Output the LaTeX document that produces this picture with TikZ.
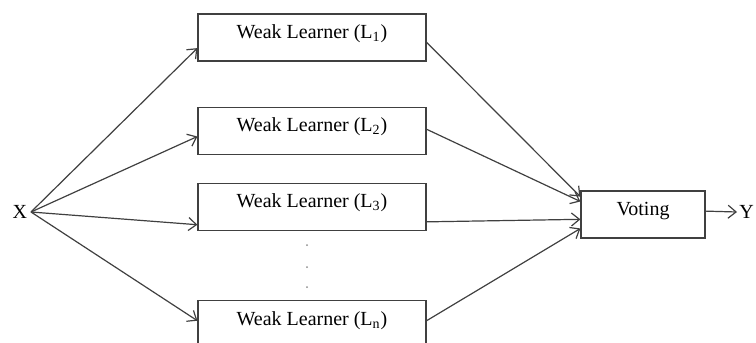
\documentclass[tikz,border=0pt]{standalone}
\usepackage{fontspec}
\setmainfont{Liberation Serif}
\usetikzlibrary{arrows.meta,calc,positioning}

\begin{document}
\begin{tikzpicture}[x=1pt,y=1pt,
node distance = 22.5pt,
 line/.style = {draw=black!75, line width=0.6pt},
  arr/.style = {line, -{Straight Barb[length=4pt,width=6.5pt]}},
  box/.style = {line, minimum width=114pt, minimum height=23.5pt,
                inner sep=0pt, text height=7pt, text depth=6pt,
                font=\fontsize{10}{12}\selectfont},
 vote/.style = {box, minimum width=62pt},
   io/.style = {inner ysep=0pt, inner xsep=1.8pt, font=\fontsize{10}{12}\selectfont},
  dot/.style = {fill=black!45, circle, inner sep=0pt, minimum size=1pt}
                ]
\useasboundingbox (0,0) rectangle (378,-171.5);

\node (l1) [box] at (156,-18.75) {Weak Learner (L\textsubscript{1})};
\node (l2) [box, below=of l1] {Weak Learner (L\textsubscript{2})};
\node (l3) [box, below=14pt of l2] {Weak Learner (L\textsubscript{3})};
\node (ln) [box, below=34.5pt of l3] {Weak Learner (L\textsubscript{n})};
\node (vt) [vote] at (321.5,-107.25) {Voting};
\node (x) [io, anchor=east] at (15.5,-106) {X};
\node (y) [io, anchor=west, inner xsep=1pt] at (368.5,-106) {Y};
%% dots between L3 and Ln
\node (d1) [dot] at (153.5,-122.5) {};
\node (d2) [dot] at (153.5,-133.5) {};
\node (d3) [dot] at (153.5,-143.5) {};

\draw [arr] (x.east) -- ($(l1.north west)!0.72!(l1.south west)$);
\draw [arr] (x.east) -- ($(l2.north west)!0.62!(l2.south west)$);
\draw [arr] (x.east) -- ($(l3.north west)!0.87!(l3.south west)$);
\draw [arr] (x.east) -- ($(ln.north west)!0.43!(ln.south west)$);

\draw [arr] ($(l1.north east)!0.60!(l1.south east)$) -- ($(vt.north west)!0.13!(vt.south west)$);
\draw [arr] ($(l2.north east)!0.47!(l2.south east)$) -- ($(vt.north west)!0.23!(vt.south west)$);
\draw [arr] ($(l3.north east)!0.81!(l3.south east)$) -- ($(vt.north west)!0.60!(vt.south west)$);
\draw [arr] ($(ln.north east)!0.43!(ln.south east)$) -- ($(vt.north west)!0.79!(vt.south west)$);

\draw [arr] ($(vt.north east)!0.43!(vt.south east)$) -- (y.west);
%%
\end{tikzpicture}
\end{document}
